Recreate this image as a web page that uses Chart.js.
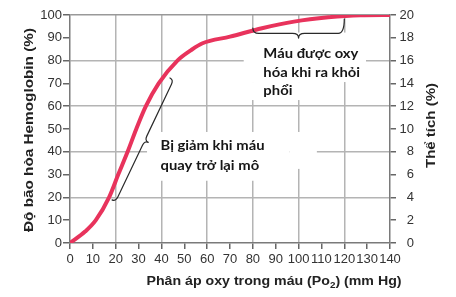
<!DOCTYPE html>
<html><head><meta charset="utf-8">
<script src="https://cdn.jsdelivr.net/npm/chart.js@4/dist/chart.umd.min.js"></script>
<style>html,body{margin:0;padding:0;background:#fff}#wrap{width:456px;height:297px}</style>
</head><body><div id="wrap"><canvas id="c" width="456" height="297"></canvas></div>
<script>
// ---- data ----
const po2 =        [0, 6.6, 11.3, 17.1, 21.1, 25.2, 29, 33.2, 38.8, 47, 53,   58,   70,   84,   98,   113, 127,  140];
const saturation = [0, 5,   10,   20,   30,   40,   50, 60,   70,   80, 84.6, 87.6, 90.5, 94.2, 97.1, 99,  99.9, 100];
const xTickValues = [0,10,20,30,40,50,60,70,80,90,100,110,120,130,140];
const leftTickValues = [0,10,20,30,40,50,60,70,80,90,100];
const rightTickValues = [0,2,4,6,8,10,12,14,16,18,20];
const xTitleParts = ['Phân áp oxy trong máu (Po', '2', ') (mm Hg)'];
const leftTitle = 'Độ bão hòa Hemoglobin (%)';
const rightTitle = 'Thể tích (%)';
const noteReturn = ['Bị giảm khi máu', 'quay trở lại mô'];
const noteLungs = ['Máu được oxy', 'hóa khi ra khỏi', 'phổi'];

// ---- annotation placement (data units) ----
const braceReturn = {from:[18.4, 18.9], to:[43.75, 72.4]};
const braceLungs = {x0:80, y0:94.3, x1:120, y1:98.2, yLine:91.9, yNib:89.9};
const noteReturnPos = {x:39.6, y:[40.8, 32.2]};
const noteLungsPos = {x:84.6, y:[81, 72.9, 64.9]};
const masks = [[33.7,48.7,96,27.3],[96,48.7,108,32.5],[76,92.3,129.5,70.6],[76,70.6,115,62.7]];

const FONT = "'Liberation Sans', Arial, Helvetica, sans-serif";
const GRID = '#b4b4b4', TICK = '#666', AXIS = '#7a7a7a';
const CLEAR = 'rgba(0,0,0,0)';

function fittedText(ctx, parts, cx, cy, targetW, angle) {
  ctx.save();
  ctx.translate(cx, cy); ctx.rotate(angle);
  let total = 0;
  parts.forEach(p => { ctx.font = p.font; p.w = ctx.measureText(p.text).width; total += p.w; });
  ctx.scale(targetW / total, 1);
  ctx.textAlign = 'left'; ctx.textBaseline = 'alphabetic'; ctx.fillStyle = '#222';
  let xx = -total / 2;
  parts.forEach(p => { ctx.font = p.font; ctx.fillText(p.text, xx, p.dy || 0); xx += p.w; });
  ctx.restore();
}

const overlay = {
  id: 'overlay',
  beforeDatasetsDraw(chart) {
    const {ctx, scales: {x, y}} = chart;
    ctx.save(); ctx.fillStyle = '#fff';
    masks.forEach(m => {
      const a = x.getPixelForValue(m[0]), b = y.getPixelForValue(m[1]);
      const c = x.getPixelForValue(m[2]), d = y.getPixelForValue(m[3]);
      ctx.fillRect(Math.min(a,c), Math.min(b,d), Math.abs(c-a), Math.abs(d-b));
    });
    ctx.restore();
  },
  afterDatasetsDraw(chart) {
    const {ctx, scales: {x, y}} = chart;
    ctx.save();
    ctx.strokeStyle = '#2a2a2a'; ctx.lineWidth = 1.2; ctx.lineJoin = 'round'; ctx.lineCap = 'round';
    // slanted brace
    {
      const x1 = x.getPixelForValue(braceReturn.from[0]), y1 = y.getPixelForValue(braceReturn.from[1]);
      const x2 = x.getPixelForValue(braceReturn.to[0]), y2 = y.getPixelForValue(braceReturn.to[1]);
      const len = Math.hypot(x2-x1, y2-y1), ux = (x2-x1)/len, uy = (y2-y1)/len, nx = -uy, ny = ux;
      const P = (s, t) => [x1 + ux*s + nx*t, y1 + uy*s + ny*t];
      const d1 = 4, d2 = 4, r = 5, m = len/2;
      ctx.beginPath();
      ctx.moveTo(...P(0,0));
      ctx.quadraticCurveTo(...P(0,d1), ...P(r,d1));
      ctx.lineTo(...P(m-r,d1));
      ctx.quadraticCurveTo(...P(m,d1), ...P(m,d1+d2));
      ctx.quadraticCurveTo(...P(m,d1), ...P(m+r,d1));
      ctx.lineTo(...P(len-r,d1));
      ctx.quadraticCurveTo(...P(len,d1), ...P(len,0));
      ctx.stroke();
    }
    // horizontal brace
    {
      const b = braceLungs;
      const xl = x.getPixelForValue(b.x0), xr = x.getPixelForValue(b.x1), xm = (xl+xr)/2;
      const yl = y.getPixelForValue(b.y0), yr = y.getPixelForValue(b.y1);
      const yL = y.getPixelForValue(b.yLine), yN = y.getPixelForValue(b.yNib), r = 6;
      ctx.beginPath();
      ctx.moveTo(xl, yl);
      ctx.quadraticCurveTo(xl, yL, xl + r, yL);
      ctx.lineTo(xm - r, yL);
      ctx.quadraticCurveTo(xm, yL, xm, yN);
      ctx.quadraticCurveTo(xm, yL, xm + r, yL);
      ctx.lineTo(xr - r, yL);
      ctx.quadraticCurveTo(xr, yL, xr, yr);
      ctx.stroke();
    }
    // notes
    const note = (lines, pos, targetW) => {
      ctx.font = "bold 14px Lato, 'Open Sans', sans-serif";
      const k = targetW / ctx.measureText(lines[0]).width;
      ctx.fillStyle = '#161616'; ctx.textAlign = 'left'; ctx.textBaseline = 'alphabetic';
      lines.forEach((t, i) => {
        ctx.save();
        ctx.translate(x.getPixelForValue(pos.x), y.getPixelForValue(pos.y[i]));
        ctx.scale(k, 1);
        ctx.fillText(t, 0, 0);
        ctx.restore();
      });
    };
    note(noteReturn, noteReturnPos, 104);
    note(noteLungs, noteLungsPos, 95);
    ctx.restore();
  },
  afterDraw(chart) {
    const ctx = chart.ctx;
    const B = 'bold 13px ' + FONT;
    fittedText(ctx, [{text: xTitleParts[0], font: B}, {text: xTitleParts[1], font: 'bold 9px ' + FONT, dy: 3}, {text: xTitleParts[2], font: B}], 274, 285, 255, 0);
    fittedText(ctx, [{text: leftTitle, font: B}], 33, 130, 204, -Math.PI/2);
    fittedText(ctx, [{text: rightTitle, font: B}], 435, 125.5, 85, -Math.PI/2);
  }
};

const tickFont = {family: FONT, size: 13};
new Chart(document.getElementById('c'), {
  type: 'line',
  data: {datasets: [{
    data: po2.map((v, i) => ({x: v, y: saturation[i]})),
    borderColor: '#e8335c', borderWidth: 4, pointRadius: 0,
    cubicInterpolationMode: 'monotone', fill: false, yAxisID: 'y', borderCapStyle: 'round'
  }]},
  options: {
    responsive: false, devicePixelRatio: 1, animation: false,
    layout: {padding: {left: 0, right: 42, top: 15, bottom: 0}},
    plugins: {legend: {display: false}, tooltip: {enabled: false}},
    scales: {
      x: {
        type: 'linear', min: 0, max: 140,
        afterBuildTicks: s => { s.ticks = xTickValues.map(v => ({value: v})); },
        grid: {color: c => (c.tick && c.tick.value % 20 === 0 && c.tick.value > 0 && c.tick.value < 140) ? GRID : CLEAR,
               tickColor: TICK, lineWidth: 1.5, tickLength: 6},
        border: {display: true, color: AXIS, width: 1.5},
        ticks: {font: tickFont, color: '#333', padding: 3, maxRotation: 0, autoSkip: false},
        afterFit: s => { s.height = 54; }
      },
      y: {
        position: 'left', min: 0, max: 100,
        afterBuildTicks: s => { s.ticks = leftTickValues.map(v => ({value: v})); },
        grid: {color: c => (c.tick && c.tick.value === 100) ? '#999' : (c.tick && c.tick.value % 20 === 0 && c.tick.value > 0) ? GRID : CLEAR,
               tickColor: TICK, lineWidth: 1.5, tickLength: 7},
        border: {display: true, color: AXIS, width: 1.5},
        ticks: {font: tickFont, color: '#333', padding: 1, autoSkip: false},
        afterFit: s => { s.width = 70; }
      },
      y2: {
        position: 'right', min: 0, max: 20,
        afterBuildTicks: s => { s.ticks = rightTickValues.map(v => ({value: v})); },
        grid: {drawOnChartArea: false, tickColor: TICK, lineWidth: 1.5, tickLength: 6},
        border: {display: true, color: AXIS, width: 1.5},
        ticks: {font: tickFont, color: '#333', padding: 2, crossAlign: 'far', autoSkip: false},
        afterFit: s => { s.width = 24; }
      }
    }
  },
  plugins: [overlay]
});
</script></body></html>
